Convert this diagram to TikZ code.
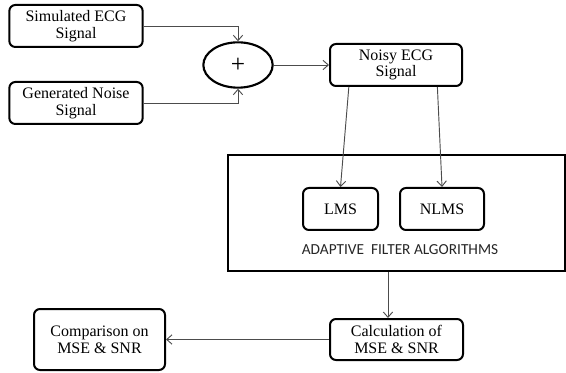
\documentclass[tikz,border=0pt]{standalone}
\usepackage{fontspec}
\setmainfont{Liberation Serif}
\newfontfamily\capsfont{Carlito}
\usepackage{tikz}
\usetikzlibrary{arrows.meta,positioning,calc,shapes.geometric}

\begin{document}
\begin{tikzpicture}[x=0.75pt, y=-0.75pt, node distance=24.75pt and 15pt, every node/.style={font=\fontsize{12}{12.5}\selectfont}, >={Straight Barb[length=4pt,width=7pt]}]
\tikzstyle{block}=[draw, line width=1.5pt, rounded corners=4.5pt, align=center, minimum width=100pt, minimum height=31.5pt, inner sep=2pt]
\tikzstyle{sum}=[draw, ellipse, line width=1.6pt, minimum width=52pt, minimum height=34pt, inner sep=0pt]
\tikzstyle{frame}=[draw, line width=1.7pt, minimum width=252.75pt, minimum height=87pt]
\tikzstyle{link}=[->, draw=black!70, line width=0.7pt]
\useasboundingbox (0,0) rectangle (566,373);
\node[block] (sim) at (76,26) {Simulated ECG\\Signal};
\node[block, below=of sim] (noise) {Generated Noise\\Signal};
\node[sum, font=\fontsize{19}{19}\selectfont] (plus) at (238,65) {+};
\node[block, minimum width=99pt] (noisy) at (396,65) {Noisy ECG\\Signal};
\node[frame] (afabox) at (396.5,213) {};
\node[block, minimum width=56.25pt] (lms) at (340.5,209) {LMS};
\node[block, minimum width=63pt, right=of lms] (nlms) {NLMS};
\node[font=\capsfont\fontsize{11.5}{12}\selectfont, text=black!85] (afalabel) at (400,250) {ADAPTIVE\ \ FILTER ALGORITHMS};
\node[block, minimum width=99.75pt, minimum height=30.75pt] (calc) at (396.5,339.5) {Calculation of\\MSE \& SNR};
\node[block, minimum width=98.25pt, minimum height=45.75pt, left=122.25pt of calc] (comp) {Comparison on\\MSE \& SNR};
\draw[link] (sim.east) -| (plus.north);
\draw[link] (noise.east) -| (plus.south);
\draw[link] (plus.east) -- (noisy.west);
\draw[link] (noisy.205) -- (lms.north);
\draw[link] (noisy.332) -- (nlms.north);
\draw[link] ([xshift=-6.4pt]afabox.south) -- ([xshift=-6.4pt]calc.north);
\draw[link] (calc.west) -- (comp.east);
\end{tikzpicture}
\end{document}
